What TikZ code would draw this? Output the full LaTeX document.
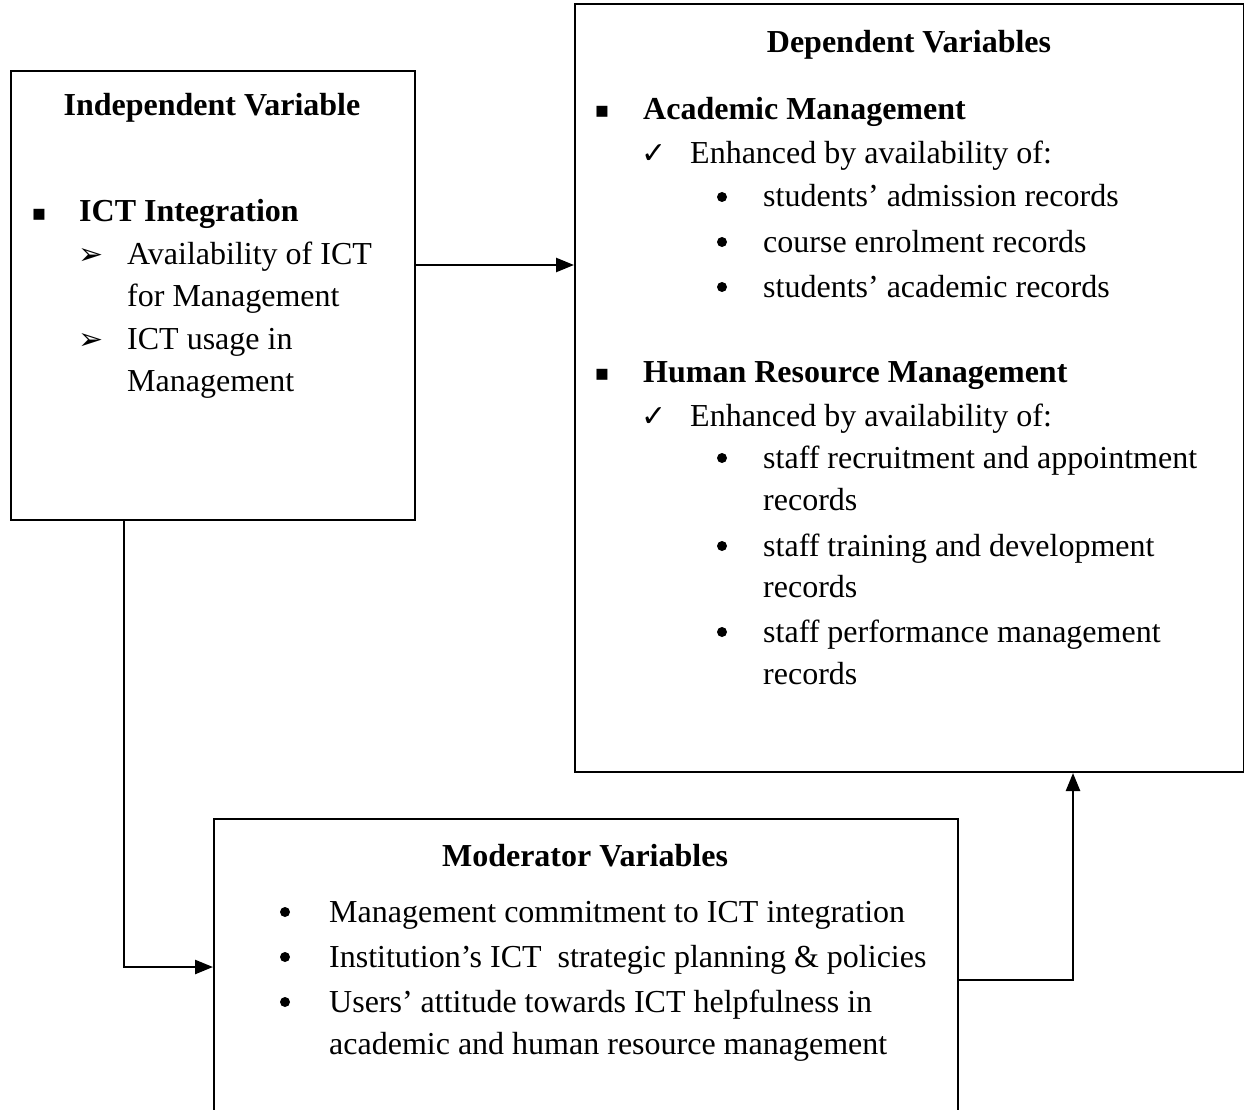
\documentclass[tikz,border=0pt]{standalone}
\usepackage{fontspec}
\setmainfont{Liberation Serif}
\newfontfamily\symfont{DejaVu Sans}
\usetikzlibrary{arrows.meta}
\tikzset{
  box/.style={draw, line width=2pt, anchor=north west, inner sep=0pt},
  arr/.style={line width=2.5pt, -{Triangle[length=18pt,width=14pt]}},
  txt/.style={anchor=base west, inner sep=0pt, font=\fontsize{32}{38}\selectfont},
  btxt/.style={anchor=base west, inner sep=0pt, font=\fontsize{32}{38}\selectfont\bfseries},
  ttl/.style={anchor=base, inner sep=0pt, font=\fontsize{32}{38}\selectfont\bfseries},
  sym/.style={anchor=base, inner sep=0pt, font=\fontsize{22}{26}\symfont},
  bsym/.style={anchor=base, inner sep=0pt, font=\fontsize{30}{34}\symfont},
}
\begin{document}
\begin{tikzpicture}[x=1pt,y=-1pt]
\useasboundingbox (0,0) rectangle (1244,1110);
% boxes
\node[box, minimum width=404pt, minimum height=449pt] (ind) at (10,70) {};
\node[box, minimum width=669pt, minimum height=768pt] (dep) at (574,3) {};
\node[box, minimum width=744pt, minimum height=330pt] (mod) at (213,818) {};

% independent
\node[ttl] (t1) at (212,116) {Independent Variable};
\node[sym] (b1) at (39,220) {▪};
\node[btxt] (i1) at (79,222) {ICT Integration};
\node[bsym] (b2) at (91,264) {➢};
\node[txt] (i2) at (127,264) {Availability of ICT};
\node[txt] (i3) at (127,306) {for Management};
\node[bsym] (b3) at (91,349) {➢};
\node[txt] (i4) at (127,349) {ICT usage in};
\node[txt] (i5) at (127,391) {Management};

% dependent
\node[ttl] (t2) at (909,53) {Dependent Variables};
\node[sym] (d0) at (602,118) {▪};
\node[btxt] (d1) at (643,120) {Academic Management};
\node[bsym] (d2) at (654,164) {✓};
\node[txt] (d3) at (690,164) {Enhanced by availability of:};
\node[txt] (d4) at (763,207) {students’ admission records};
\node[txt] (d5) at (763,252) {course enrolment records};
\node[txt] (d6) at (763,297) {students’ academic records};
\node[sym] (e0) at (602,380) {▪};
\node[btxt] (e1) at (643,382) {Human Resource Management};
\node[bsym] (e2) at (654,426) {✓};
\node[txt] (e3) at (690,426) {Enhanced by availability of:};
\node[txt] (e4) at (763,468) {staff recruitment and appointment};
\node[txt] (e5) at (763,510) {records};
\node[txt] (e6) at (763,556) {staff training and development};
\node[txt] (e7) at (763,597) {records};
\node[txt] (e8) at (763,642) {staff performance management};
\node[txt] (e9) at (763,684) {records};

% moderator
\node[ttl] (t3) at (585,866) {Moderator Variables};
\node[txt] (m1) at (329,922) {Management commitment to ICT integration};
\node[txt] (m2) at (329,967) {Institution’s ICT\ \ strategic planning \& policies};
\node[txt] (m3) at (329,1012) {Users’ attitude towards ICT helpfulness in};
\node[txt] (m4) at (329,1054) {academic and human resource management};

% round bullets
\foreach \n/\xx in {d4/722,d5/722,d6/722,e4/722,e6/722,e8/722,m1/285,m2/285,m3/285}{
  \fill (\n.base -| \xx,0) ++(0,-10) circle (5pt);
}

% connectors
\coordinate (c1) at (0,265);
\coordinate (c2) at (124,967);
\coordinate (c3) at (1073,980);
\draw[arr] (ind.east |- c1) -- (dep.west |- c1);
\draw[arr] (ind.south -| c2) |- (mod.west |- c2);
\draw[arr] (mod.east |- c3) -| (dep.south -| c3);
\end{tikzpicture}
\end{document}
